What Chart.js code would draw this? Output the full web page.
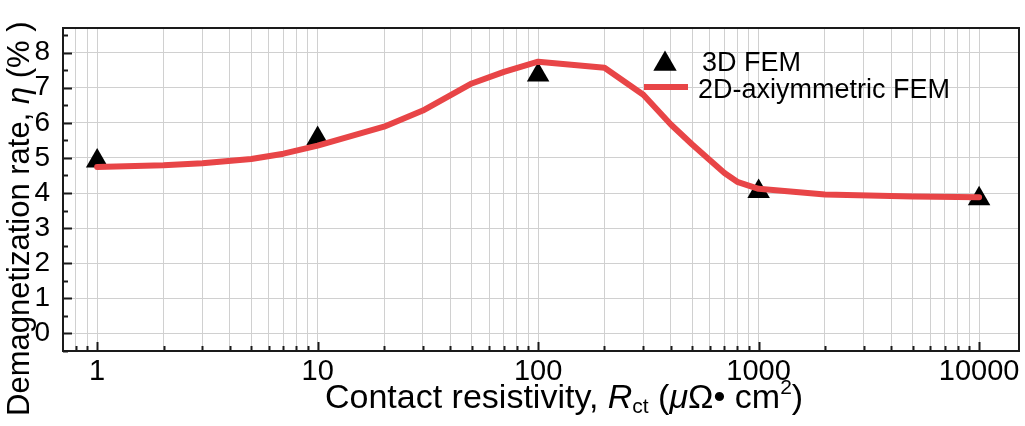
<!DOCTYPE html>
<html>
<head>
<meta charset="utf-8">
<script src="https://cdn.jsdelivr.net/npm/chart.js@4"></script>
<style>
html,body{margin:0;padding:0;background:#fff;}
#wrap{width:1025px;height:426px;}
</style>
</head>
<body>
<div id="wrap"><canvas id="c" width="1025" height="426"></canvas></div>
<script>
// ---- data ----
const fem3dX = [1, 10, 100, 1000, 10000];
const fem3dY = [4.91, 5.55, 7.36, 4.04, 3.84];

const fem2dX = [1, 2, 3, 5, 7, 10, 20, 30, 50, 70, 100, 200, 300, 400, 500, 600, 700, 800, 1000, 2000, 5000, 10000];
const fem2dY = [4.74, 4.79, 4.85, 4.97, 5.12, 5.35, 5.89, 6.35, 7.12, 7.45, 7.74, 7.57, 6.80, 5.95, 5.38, 4.94, 4.57, 4.32, 4.12, 3.96, 3.90, 3.88];

const xLabelValues = [1, 10, 100, 1000, 10000];
const xLabelTexts = ['1', '10', '100', '1000', '10000'];
const yTickValues = [0, 1, 2, 3, 4, 5, 6, 7, 8];
const yMinorValues = [-0.5, 0.5, 1.5, 2.5, 3.5, 4.5, 5.5, 6.5, 7.5, 8.5];

const seriesNames = ['3D FEM', '2D-axiymmetric FEM'];
const RED = '#e84547';
const FONT = "'Liberation Sans', Arial, Helvetica, sans-serif";

const xGridValues = [];
[0.1, 1, 10, 100, 1000].forEach(d => { for (let k = 1; k <= 9; k++) xGridValues.push(+(k * d).toPrecision(3)); });
xGridValues.push(10000);
const xMin = 0.72, xMax = 15170;
const xTickValues = xGridValues.filter(v => v >= xMin && v <= xMax);

function drawRich(ctx, segs, x, y) {
  segs.forEach(s => {
    ctx.font = s.font;
    ctx.fillText(s.t, x, y + (s.dy || 0));
    x += ctx.measureText(s.t).width;
  });
}

const decor = {
  id: 'decor',
  afterDraw(chart) {
    const ctx = chart.ctx;
    const a = chart.chartArea;
    const xs = chart.scales.x, ys = chart.scales.y;
    ctx.save();
    ctx.strokeStyle = '#1a1a1a';
    ctx.lineWidth = 2;
    ctx.beginPath();
    xTickValues.forEach(v => {
      const px = Math.round(xs.getPixelForValue(v)) + 0.5;
      const len = xLabelValues.includes(v) ? 9 : 5;
      ctx.moveTo(px, a.bottom); ctx.lineTo(px, a.bottom - len);
    });
    yTickValues.forEach(v => {
      const py = Math.round(ys.getPixelForValue(v)) + 0.5;
      ctx.moveTo(a.left, py); ctx.lineTo(a.left + 9, py);
    });
    yMinorValues.forEach(v => {
      if (v < ys.min || v > ys.max) return;
      const py = Math.round(ys.getPixelForValue(v)) + 0.5;
      ctx.moveTo(a.left, py); ctx.lineTo(a.left + 5, py);
    });
    ctx.stroke();
    ctx.lineWidth = 2;
    ctx.strokeRect(a.left, a.top, a.right - a.left, a.bottom - a.top);

    // legend
    ctx.fillStyle = '#000';
    const cx = 665, cy = 64, r = 13.5;
    ctx.beginPath();
    ctx.moveTo(cx, cy - r);
    ctx.lineTo(cx - r * Math.sin(Math.PI / 3), cy + r / 2);
    ctx.lineTo(cx + r * Math.sin(Math.PI / 3), cy + r / 2);
    ctx.closePath();
    ctx.fill();
    ctx.strokeStyle = RED;
    ctx.lineWidth = 6;
    ctx.beginPath();
    ctx.moveTo(644, 87); ctx.lineTo(688, 87);
    ctx.stroke();
    ctx.fillStyle = '#000';
    ctx.textBaseline = 'alphabetic';
    ctx.textAlign = 'left';
    ctx.font = '27px ' + FONT;
    ctx.fillText(seriesNames[0], 702, 71);
    ctx.fillText(seriesNames[1], 698, 98);

    // x axis title
    const big = '34px ' + FONT, bigI = 'italic 34px ' + FONT, small = '21px ' + FONT;
    drawRich(ctx, [
      {t: 'Contact resistivity, ', font: big},
      {t: 'R', font: bigI},
      {t: 'ct', font: small, dy: 5},
      {t: ' (', font: big},
      {t: 'μ', font: bigI},
      {t: 'Ω• cm', font: big},
      {t: '2', font: small, dy: -14},
      {t: ')', font: big}
    ], 325, 408);

    // y axis title
    const yb = '31px ' + FONT, ybI = 'italic 31px ' + FONT;
    ctx.translate(29, 416);
    ctx.rotate(-Math.PI / 2);
    drawRich(ctx, [
      {t: 'Demagnetization rate, ', font: yb},
      {t: 'η', font: ybI},
      {t: ' (% )', font: yb}
    ], 0, 0);
    ctx.restore();
  }
};

new Chart(document.getElementById('c'), {
  type: 'scatter',
  data: {
    datasets: [
      {
        label: seriesNames[1],
        data: fem2dX.map((x, i) => ({x: x, y: fem2dY[i]})),
        showLine: true,
        borderColor: RED,
        backgroundColor: RED,
        borderWidth: 6,
        pointRadius: 0,
        tension: 0,
        borderJoinStyle: 'round',
        borderCapStyle: 'round',
        order: 0
      },
      {
        label: seriesNames[0],
        data: fem3dX.map((x, i) => ({x: x, y: fem3dY[i]})),
        pointStyle: 'triangle',
        pointRadius: 13,
        backgroundColor: '#000',
        borderColor: '#000',
        borderWidth: 0,
        order: 1
      }
    ]
  },
  options: {
    responsive: false,
    animation: false,
    layout: {autoPadding: false, padding: {left: 0, top: 28, right: 6, bottom: 0}},
    plugins: {legend: {display: false}, tooltip: {enabled: false}},
    scales: {
      x: {
        type: 'logarithmic',
        min: xMin,
        max: xMax,
        afterBuildTicks(s) { s.ticks = xTickValues.map(v => ({value: v})); },
        afterFit(s) { s.height = 75; s.paddingLeft = 0; s.paddingRight = 0; },
        ticks: {
          autoSkip: false,
          maxRotation: 0,
          padding: 4,
          color: '#000',
          font: {family: FONT, size: 29},
          callback(v) { const i = xLabelValues.indexOf(v); return i >= 0 ? xLabelTexts[i] : ''; }
        },
        grid: {color: '#d0d0d0', lineWidth: 1, drawTicks: false},
        border: {display: false}
      },
      y: {
        type: 'linear',
        min: -0.5,
        max: 8.7,
        afterBuildTicks(s) { s.ticks = yTickValues.map(v => ({value: v})); },
        afterFit(s) { s.width = 63; s.paddingTop = 0; s.paddingBottom = 0; },
        ticks: {
          padding: 13,
          color: '#000',
          font: {family: FONT, size: 28}
        },
        grid: {color: '#d0d0d0', lineWidth: 1, drawTicks: false},
        border: {display: false}
      }
    }
  },
  plugins: [decor]
});
</script>
</body>
</html>
